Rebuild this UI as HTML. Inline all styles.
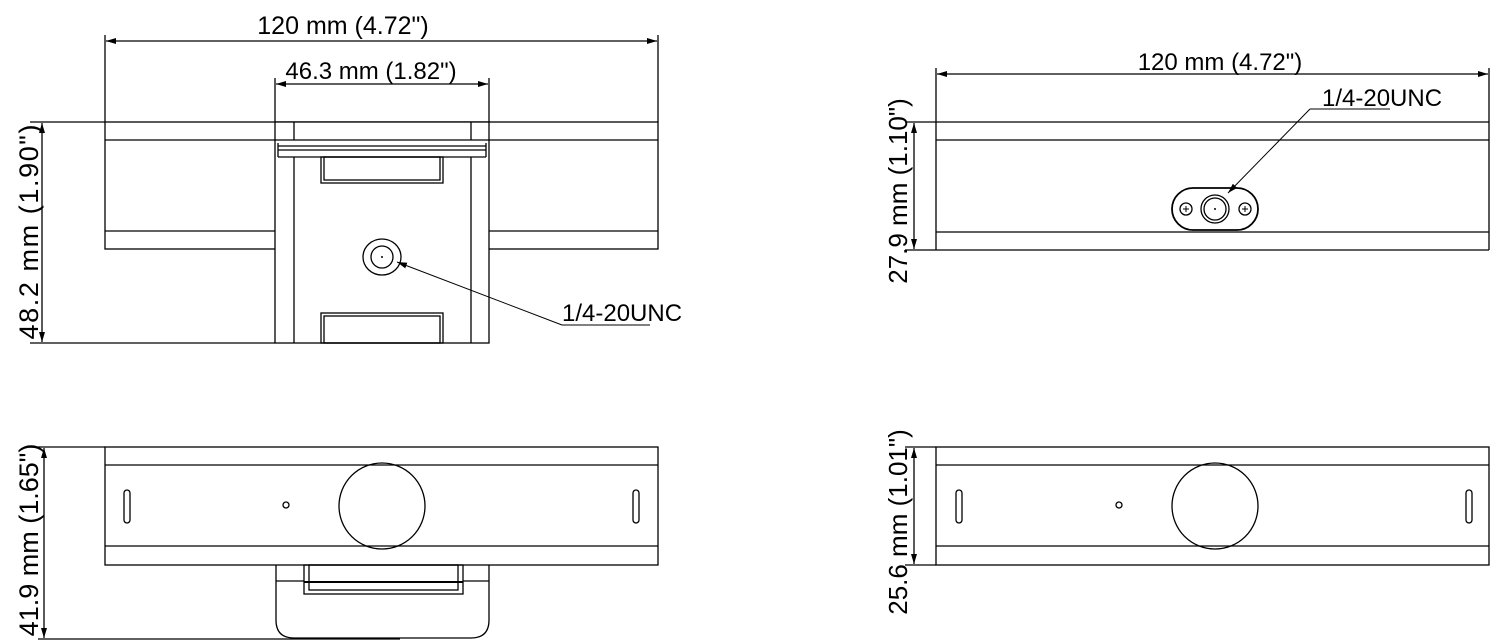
<!DOCTYPE html>
<html><head><meta charset="utf-8"><style>
html,body{margin:0;padding:0;background:#fff;}
svg{display:block;}
text{font-family:"Liberation Sans","DejaVu Sans",sans-serif;fill:#000;}
</style></head><body>
<svg width="1493" height="642" viewBox="0 0 1493 642" xmlns="http://www.w3.org/2000/svg">
<defs>
<marker id="a" viewBox="0 0 10 6" refX="10" refY="3" markerWidth="10" markerHeight="6" orient="auto-start-reverse" markerUnits="userSpaceOnUse"><path d="M0,0 L10,3 L0,6 z" fill="#000"/></marker>
</defs>
<g fill="none" stroke="#000" stroke-width="1.3">
<line x1="105" y1="35" x2="105" y2="122"/><line x1="658" y1="35" x2="658" y2="122"/>
<line x1="106" y1="41" x2="657" y2="41" marker-start="url(#a)" marker-end="url(#a)"/>
<line x1="275" y1="78" x2="275" y2="122"/><line x1="489" y1="78" x2="489" y2="122"/>
<line x1="276" y1="84" x2="488" y2="84" marker-start="url(#a)" marker-end="url(#a)"/>
<rect x="105" y="122" width="553" height="127"/>
<line x1="105" y1="140" x2="658" y2="140"/><line x1="105" y1="231" x2="658" y2="231"/>
<rect x="275" y="122" width="214" height="221" fill="#fff"/>
<line x1="294" y1="122" x2="294" y2="140"/><line x1="471" y1="122" x2="471" y2="140"/>
<line x1="275" y1="140" x2="489" y2="140"/>
<line x1="278" y1="146" x2="486" y2="146"/>
<line x1="278" y1="150" x2="486" y2="150"/>
<line x1="278" y1="143" x2="278" y2="157"/><line x1="486" y1="143" x2="486" y2="157"/>
<line x1="278" y1="157" x2="486" y2="157"/>
<line x1="294" y1="157" x2="294" y2="343"/><line x1="471" y1="157" x2="471" y2="343"/>
<rect x="321" y="157" width="122" height="26"/>
<rect x="324" y="157" width="116" height="23"/>
<rect x="321" y="313" width="122" height="30"/>
<rect x="324" y="316" width="116" height="27"/>
<ellipse cx="382" cy="257" rx="19" ry="18"/><ellipse cx="382" cy="257" rx="11" ry="11"/>
<line x1="30" y1="122" x2="105" y2="122"/><line x1="30" y1="343" x2="275" y2="343"/>
<line x1="42" y1="123" x2="42" y2="342" marker-start="url(#a)" marker-end="url(#a)"/>
<line x1="397" y1="262" x2="562" y2="325" stroke-width="1" marker-start="url(#a)"/>
<line x1="562" y1="325" x2="650" y2="325" stroke-width="1"/>
<rect x="105" y="447" width="553" height="118"/>
<line x1="105" y1="465" x2="658" y2="465"/><line x1="105" y1="546" x2="658" y2="546"/>
<ellipse cx="382" cy="506" rx="43" ry="43"/>
<circle cx="286" cy="505" r="3"/>
<rect x="124" y="490" width="6" height="33" rx="3"/>
<rect x="633" y="490" width="6" height="33" rx="3"/>
<path d="M276,565 L276,620 Q276,638 294,638 L471,638 Q489,638 489,620 L489,565"/>
<line x1="276" y1="581" x2="304" y2="581"/><line x1="463" y1="581" x2="489" y2="581"/>
<rect x="304" y="565" width="159" height="29"/>
<rect x="309" y="565" width="149" height="25"/>
<line x1="304" y1="582" x2="463" y2="582" stroke-width="2"/>
<line x1="30" y1="447" x2="105" y2="447"/><line x1="38" y1="639" x2="400" y2="639"/>
<line x1="44" y1="448" x2="44" y2="638" marker-start="url(#a)" marker-end="url(#a)"/>
<line x1="936" y1="68" x2="936" y2="250"/><line x1="1489" y1="68" x2="1489" y2="122"/>
<line x1="937" y1="74" x2="1488" y2="74" marker-start="url(#a)" marker-end="url(#a)"/>
<line x1="905" y1="122" x2="1489" y2="122"/>
<line x1="936" y1="140" x2="1489" y2="140"/><line x1="936" y1="232" x2="1489" y2="232"/>
<line x1="905" y1="250" x2="1489" y2="250"/>
<line x1="1489" y1="122" x2="1489" y2="250"/>
<line x1="914" y1="123" x2="914" y2="249" marker-start="url(#a)" marker-end="url(#a)"/>
<rect x="1172" y="188" width="86" height="42" rx="21" fill="#fff" stroke-width="1.8"/>
<circle cx="1215" cy="209" r="14"/><circle cx="1215" cy="209" r="11"/>
<circle cx="1186" cy="209" r="6"/><circle cx="1245" cy="209" r="6"/>
<line x1="1228" y1="193" x2="1310" y2="109" stroke-width="1" marker-start="url(#a)"/>
<line x1="1310" y1="109" x2="1390" y2="109" stroke-width="1"/>
<rect x="936" y="447" width="553" height="118"/>
<line x1="936" y1="465" x2="1489" y2="465"/><line x1="936" y1="546" x2="1489" y2="546"/>
<line x1="905" y1="447" x2="936" y2="447"/><line x1="905" y1="565" x2="936" y2="565"/>
<ellipse cx="1215" cy="506" rx="43" ry="43"/>
<circle cx="1119" cy="505" r="3"/>
<rect x="956" y="490" width="6" height="33" rx="3"/>
<rect x="1466" y="490" width="6" height="33" rx="3"/>
<line x1="914" y1="448" x2="914" y2="564" marker-start="url(#a)" marker-end="url(#a)"/>
</g>
<g fill="#000">
<circle cx="382" cy="257" r="1"/><circle cx="1215" cy="209" r="1"/>
<path d="M1183,209h6M1186,206v6M1242,209h6M1245,206v6" stroke="#000" stroke-width="1"/>
</g>
<text x="343" y="34" font-size="25" text-anchor="middle">120 mm (4.72")</text>
<text x="371" y="79" font-size="24" text-anchor="middle">46.3 mm (1.82")</text>
<text x="562" y="321" font-size="24">1/4-20UNC</text>
<text x="1220" y="70" font-size="24" text-anchor="middle">120 mm (4.72")</text>
<text x="1322" y="106" font-size="24">1/4-20UNC</text>
<text transform="translate(38,232) rotate(-90)" font-size="27" text-anchor="middle" textLength="215">48.2 mm  (1.90")</text>
<text transform="translate(38,540) rotate(-90)" font-size="27" text-anchor="middle">41.9 mm (1.65")</text>
<text transform="translate(907,191) rotate(-90)" font-size="26" text-anchor="middle">27.9 mm (1.10")</text>
<text transform="translate(907,522) rotate(-90)" font-size="26" text-anchor="middle">25.6 mm (1.01")</text>
</svg>
</body></html>
